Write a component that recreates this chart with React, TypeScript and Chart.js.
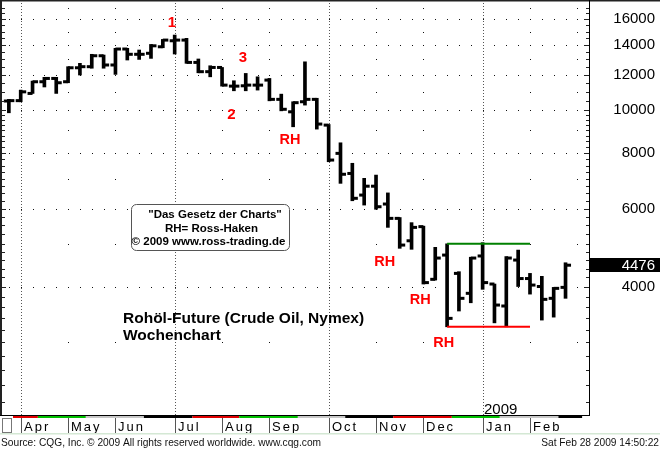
import React, { useEffect, useRef } from 'react';
import { Chart, registerables } from 'chart.js';

Chart.register(...registerables);

// ---- data (weekly OHLC, crude oil futures, in points) ----
const weekIndex = [1, 2, 3, 4, 5, 6, 7, 8, 9, 10, 11, 12, 13, 14, 15, 16, 17, 18, 19, 20, 21, 22, 23, 24, 25, 26, 27, 28, 29, 30, 31, 32, 33, 34, 35, 36, 37, 38, 39, 40, 41, 42, 43, 44, 45, 46, 47, 48];
const opens = [10480, 10500, 10900, 11580, 11780, 11580, 12450, 12520, 13250, 12630, 13720, 13350, 13420, 13880, 14320, 14370, 12800, 12200, 12470, 11320, 11340, 11380, 11680, 10570, 9910, 10440, 10570, 9250, 7990, 7200, 6437, 6740, 6145, 5705, 5080, 5466, 4160, 4717, 4290, 3869, 4695, 4060, 3623, 4597, 4177, 4008, 3770, 3990];
const highs = [10570, 11090, 11620, 11850, 11850, 12520, 12740, 13350, 13300, 13770, 13770, 13650, 14050, 14420, 14750, 14500, 13030, 12580, 12470, 11640, 12090, 11880, 11780, 10860, 10440, 12840, 10630, 9280, 8440, 7590, 7020, 7140, 6510, 5730, 5580, 5480, 4910, 5000, 4328, 4665, 5030, 4060, 4681, 4841, 4290, 4225, 3990, 4533];
const lows = [9860, 10440, 10900, 11270, 10900, 11520, 11990, 12420, 12420, 12030, 12960, 13000, 13070, 13810, 13370, 12740, 12130, 11880, 11320, 11050, 11050, 11090, 10490, 9960, 9170, 10260, 9060, 7650, 6840, 6250, 6112, 5980, 5445, 4885, 4860, 4060, 4144, 3253, 3530, 3684, 3950, 3320, 3253, 4008, 3853, 3368, 3420, 3770];
const closes = [10500, 10990, 11580, 11780, 11520, 12450, 12520, 13250, 12630, 13720, 13350, 13350, 13950, 14370, 14370, 12800, 12200, 12470, 11380, 11320, 11380, 11380, 10570, 10040, 10390, 10570, 9300, 7718, 7170, 6330, 6740, 6060, 5705, 4968, 5445, 4090, 4645, 3398, 3770, 4645, 4090, 3641, 4645, 4177, 4038, 3750, 3970, 4476];

const priceLabels = [4000, 6000, 8000, 10000, 12000, 14000, 16000];
const minorGridLevels = [3000, 5000, 7000, 9000, 11000, 13000, 15000, 17000];
const lastPrice = 4476;

const monthNames = ['Apr', 'May', 'Jun', 'Jul', 'Aug', 'Sep', 'Oct', 'Nov', 'Dec', 'Jan', 'Feb'];
const monthStarts = [2, 6, 10, 15, 19, 23, 28, 32, 36, 41, 45];
const quarterStarts = [2, 15, 28, 41];
const minorMonthStarts = [6, 10, 19, 23, 32, 36, 45, 49];

const rangeStart = 38;
const rangeEnd = 45;
const rangeHigh = 5000;
const rangeLow = 3253;

const stripBounds = [1.35, 3.45, 7.5, 12.4, 16.5, 20.45, 25.4, 29.4, 33.45, 38.4, 42.45, 47.4, 49.4];
const stripColors = ['#e00000', '#00c000', '#c8c8c8', '#000000', '#e00000', '#00c000', '#c8c8c8', '#000000', '#e00000', '#00c000', '#c8c8c8', '#000000'];

const markTexts = ['1', '3', '2', 'RH', 'RH', 'RH', 'RH'];
const markIdx = [14.77, 20.77, 19.8, 24.74, 32.73, 35.74, 37.71];
const markPrice = [15780, 13160, 9795, 8583, 4573, 3746, 3005];

const FONT = "Arial, 'Liberation Sans', Helvetica, sans-serif";

const decor = {
  id: 'decor',
  beforeDatasetsDraw(chart: any) {
    const { ctx, chartArea: a, scales } = chart;
    const x = scales.x;
    const y = scales.y;
    ctx.save();
    ctx.fillStyle = '#111';
    for (const v of priceLabels) {
      const py = Math.round(y.getPixelForValue(v));
      for (let i = 1; i <= 49; i++) {
        const px = Math.round(x.getPixelForValue(i));
        ctx.fillRect(px, py, 1, 1);
      }
    }
    for (const v of minorGridLevels) {
      const py = Math.round(y.getPixelForValue(v));
      if (py < a.top + 2 || py > a.bottom - 2) continue;
      for (const m of minorMonthStarts) {
        const px = Math.round(x.getPixelForValue(m));
        ctx.fillRect(px, py, 1, 1);
      }
    }
    ctx.fillStyle = '#555';
    for (const q of quarterStarts) {
      const px = Math.round(x.getPixelForValue(q));
      for (let py = a.top + 2; py < a.bottom - 1; py += 3) ctx.fillRect(px, py, 1, 1);
    }
    ctx.restore();
  },
  afterDatasetsDraw(chart: any) {
    const { ctx, chartArea: a, scales } = chart;
    const x = scales.x;
    const y = scales.y;
    ctx.save();
    // open / close ticks
    ctx.fillStyle = '#000';
    for (let k = 0; k < weekIndex.length; k++) {
      const px = x.getPixelForValue(weekIndex[k]);
      const yo = y.getPixelForValue(opens[k]);
      const yc = y.getPixelForValue(closes[k]);
      ctx.fillRect(px - 5, yo - 1.5, 5, 3);
      ctx.fillRect(px, yc - 1.5, 5.5, 3);
    }
    // frame
    ctx.fillStyle = '#222';
    ctx.fillRect(0, 0, 660, 1.5);
    ctx.fillRect(0, 0, 2, a.bottom);
    ctx.fillStyle = '#000';
    ctx.fillRect(a.right - 1, 0, 1, a.bottom);
    ctx.fillRect(0, a.bottom - 1, a.right, 1);
    // edge minor ticks
    const minorTicks: number[] = [];
    for (let v = 2200; v < 5000; v += 200) minorTicks.push(v);
    for (let v = 5000; v < 10000; v += 250) minorTicks.push(v);
    for (let v = 10000; v <= 17500; v += 500) minorTicks.push(v);
    ctx.fillStyle = '#222';
    for (const v of minorTicks) {
      const py = Math.round(y.getPixelForValue(v));
      if (py < a.top + 2 || py > a.bottom - 2) continue;
      const major = priceLabels.includes(v);
      ctx.fillRect(2, py, major ? 4 : 3, 1);
      ctx.fillRect(a.right - 1 - (major ? 5 : 3), py, major ? 5 : 3, 1);
    }
    // colour strip
    for (let s = 0; s < stripColors.length; s++) {
      const x0 = x.getPixelForValue(stripBounds[s]);
      const x1 = x.getPixelForValue(stripBounds[s + 1]);
      ctx.fillStyle = stripColors[s];
      ctx.fillRect(x0, a.bottom, Math.min(x1, a.right) - x0, 2);
    }
    // month row
    ctx.strokeStyle = '#777';
    ctx.lineWidth = 1;
    ctx.strokeRect(2.5, 418.5, 9, 14);
    ctx.font = `13px ${FONT}`;
    (ctx as any).letterSpacing = '2px';
    ctx.textBaseline = 'alphabetic';
    ctx.textAlign = 'left';
    for (let m = 0; m < monthNames.length; m++) {
      const px = Math.round(x.getPixelForValue(monthStarts[m]));
      ctx.fillStyle = '#555';
      ctx.fillRect(px, 418, 1, 15);
      ctx.fillStyle = '#000';
      ctx.fillText(monthNames[m], px + 3, 430.5);
    }
    (ctx as any).letterSpacing = '0px';
    ctx.fillStyle = '#d4e8d4';
    ctx.fillRect(0, 433, 660, 1.5);
    // source line
    ctx.fillStyle = '#111';
    ctx.font = `10.2px ${FONT}`;
    ctx.textAlign = 'left';
    ctx.fillText('Source: CQG, Inc. \u00a9 2009 All rights reserved worldwide. www.cqg.com', 1, 445.5);
    ctx.textAlign = 'right';
    ctx.fillText('Sat Feb 28 2009 14:50:22', 659, 445.5);
    // year label
    ctx.textAlign = 'left';
    ctx.font = `15px ${FONT}`;
    ctx.fillStyle = '#000';
    ctx.fillText('2009', 484, 413.5);
    // last price box
    const yl = y.getPixelForValue(lastPrice);
    ctx.fillStyle = '#000';
    ctx.fillRect(a.right, Math.round(yl) - 7, 660 - a.right, 14);
    ctx.fillStyle = '#fff';
    ctx.textAlign = 'right';
    ctx.textBaseline = 'middle';
    ctx.fillText(String(lastPrice), 655, Math.round(yl) + 0.5);
    // red marks
    ctx.fillStyle = '#ff0000';
    ctx.textAlign = 'center';
    for (let k = 0; k < markTexts.length; k++) {
      ctx.font = `bold ${markTexts[k] === 'RH' ? 14.5 : 15}px ${FONT}`;
      ctx.fillText(markTexts[k], x.getPixelForValue(markIdx[k]), y.getPixelForValue(markPrice[k]) + 0.5);
    }
    // info box
    ctx.beginPath();
    (ctx as any).roundRect(131.5, 204.5, 158, 46, 5);
    ctx.fillStyle = '#fff';
    ctx.fill();
    ctx.strokeStyle = '#555';
    ctx.lineWidth = 1;
    ctx.stroke();
    ctx.fillStyle = '#000';
    ctx.font = `bold 11.5px ${FONT}`;
    ctx.textAlign = 'center';
    ctx.fillText('"Das Gesetz der Charts"', 215, 214.5);
    ctx.fillText('RH= Ross-Haken', 211.5, 229);
    ctx.fillText('\u00a9 2009 www.ross-trading.de', 208.5, 242);
    // title
    ctx.textAlign = 'left';
    ctx.textBaseline = 'alphabetic';
    ctx.font = `bold 15.5px ${FONT}`;
    ctx.fillText('Roh\u00f6l-Future (Crude Oil, Nymex)', 123, 323);
    ctx.fillText('Wochenchart', 123, 340);
    ctx.restore();
  },
};

export default function App() {
  const ref = useRef<HTMLCanvasElement | null>(null);
  useEffect(() => {
    if (!ref.current) return;
    const bars = weekIndex.map((w, k) => ({ x: w, y: [lows[k], highs[k]] }));
    const chart = new Chart(ref.current, {
      type: 'bar',
      data: {
        datasets: [
          {
            type: 'line',
            data: [{ x: rangeStart, y: rangeHigh }, { x: rangeEnd, y: rangeHigh }],
            borderColor: '#008000',
            borderWidth: 2,
            pointRadius: 0,
          } as any,
          {
            type: 'line',
            data: [{ x: rangeStart, y: rangeLow }, { x: rangeEnd, y: rangeLow }],
            borderColor: '#ff0000',
            borderWidth: 2,
            pointRadius: 0,
          } as any,
          {
            type: 'bar',
            data: bars as any,
            backgroundColor: '#000',
            borderWidth: 0,
            barThickness: 3,
            grouped: false,
          } as any,
        ],
      },
      options: {
        responsive: false,
        animation: false,
        events: [],
        layout: { padding: { left: 2, top: 1, right: 5, bottom: 33 } },
        plugins: { legend: { display: false }, tooltip: { enabled: false } },
        scales: {
          x: { type: 'linear', min: 0.421, max: 50.066, offset: false, display: false },
          y: {
            type: 'logarithmic',
            position: 'right',
            min: 2049,
            max: 17596,
            afterBuildTicks: (s: any) => {
              s.ticks = priceLabels.map((v) => ({ value: v }));
            },
            afterFit: (s: any) => {
              s.width = 65;
              s.paddingTop = 0;
              s.paddingBottom = 0;
            },
            grid: { display: false },
            border: { display: false },
            ticks: {
              crossAlign: 'far',
              autoSkip: false,
              padding: 0,
              color: '#000',
              font: { family: FONT, size: 15 },
              callback: (v: any) => String(v),
            },
          } as any,
        },
      },
      plugins: [decor],
    });
    return () => chart.destroy();
  }, []);
  return (
    <div style={{ position: 'absolute', left: 0, top: 0, width: 660, height: 449, background: '#fff' }}>
      <canvas ref={ref} width={660} height={449} style={{ display: 'block' }} />
    </div>
  );
}
